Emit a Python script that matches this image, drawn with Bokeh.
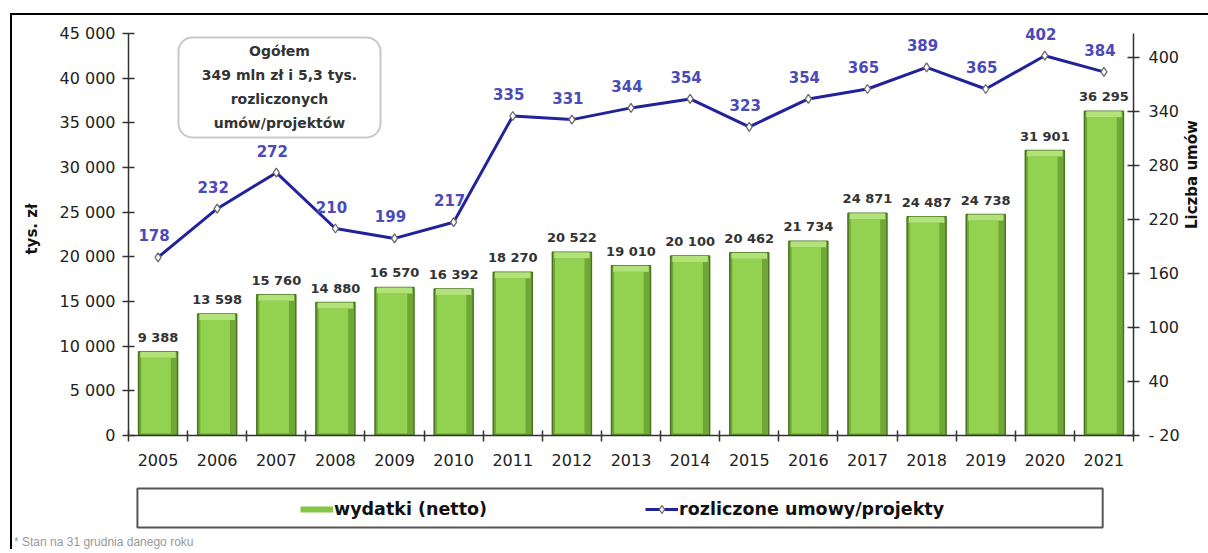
import math
from bokeh.plotting import figure
from bokeh.layouts import column
from bokeh.models import (Range1d, LinearAxis, FixedTicker, ColumnDataSource, Label,
                          BoxAnnotation, Legend, LegendItem, Div)
from bokeh.transform import dodge
from bokeh.core.properties import value
from bokeh.embed import file_html
from bokeh.resources import INLINE

# ---------------- data ----------------
years = [str(y) for y in range(2005, 2022)]
spending = [9388, 13598, 15760, 14880, 16570, 16392, 18270, 20522, 19010,
            20100, 20462, 21734, 24871, 24487, 24738, 31901, 36295]
contracts = [178, 232, 272, 210, 199, 217, 335, 331, 344, 354, 323, 354,
             365, 389, 365, 402, 384]
left_ticks = [0, 5000, 10000, 15000, 20000, 25000, 30000, 35000, 40000, 45000]
right_ticks = [-20, 40, 100, 160, 220, 280, 340, 400]
series_names = ["wydatki (netto)", "rozliczone umowy/projekty"]
left_title = "tys. zł"
right_title = "Liczba umów"
box_text = "Ogółem\n349 mln zł i 5,3 tys.\nrozliczonych\numów/projektów"
note = "* Stan na 31 grudnia danego roku"


def fmt(v):
    return f"{v:,}".replace(",", " ")


# ---------------- geometry (page pixels) ----------------
OX, OY = 12, 15                 # origin of the content inside the black border
FL, FR, FB = 128, 1133, 435     # frame left/right/bottom
AXIS_TOP = 33                   # where the axes end (45 000 / ~427)
FT = 22                         # frame top (a bit of headroom for labels)
MAIN_BOTTOM = 480
W = 1192
N = len(years)
LMAX = 45000
PX = LMAX / (FB - AXIS_TOP)     # left-axis units per pixel
RMIN = -20
R_PX_PER_UNIT = (FB - 57) / 420.0
R_AXIS_END = RMIN + (FB - AXIS_TOP) / R_PX_PER_UNIT
R_FRAME_END = RMIN + (FB - FT) / R_PX_PER_UNIT


def dx(px):
    return (px - FL) * N / (FR - FL)


def dy(py):
    return (FB - py) * PX


FONT = value("DejaVu Sans")

xs = [i + 0.5 for i in range(N)]
src = ColumnDataSource(dict(
    x=xs, year=years, spending=spending, contracts=contracts,
    sp_label=[fmt(v) for v in spending],
    ct_label=[str(c) for c in contracts],
    inner_top=[v - 6 * PX for v in spending],
    cap_bottom=[v - 6 * PX for v in spending],
))

p = figure(frame_width=FR - FL, frame_height=FB - FT,
           x_range=Range1d(0, N), y_range=Range1d(0, dy(FT)),
           min_border_left=FL - OX, min_border_right=W - (FR - OX),
           min_border_top=FT - OY, min_border_bottom=MAIN_BOTTOM - FB,
           output_backend="svg", toolbar_location=None,
           background_fill_color="white", border_fill_color="white")
p.extra_y_ranges = {"n": Range1d(RMIN, R_FRAME_END)}
p.outline_line_color = None
p.xgrid.visible = False
p.ygrid.visible = False

# ---------------- bars ----------------
bars = p.vbar(x="x", top="spending", bottom=0, width=0.66, source=src,
              fill_color="#6fa836", line_color="#4a7420", line_width=1.5)
p.vbar(x=dodge("x", -0.035), top="inner_top", bottom=2 * PX, width=0.5,
       source=src, fill_color="#93d251", line_color=None)
p.vbar(x="x", top="spending", bottom="cap_bottom", width=0.6, source=src,
       fill_color="#b2e27a", line_color=None)

# ---------------- line ----------------
line = p.line(x="x", y="contracts", y_range_name="n", source=src,
              line_color="#22229a", line_width=3)
marks = p.scatter(x="x", y="contracts", y_range_name="n", source=src,
                  marker="diamond", size=9, fill_color="white",
                  line_color="#6a6a6a", line_width=1.3)

# ---------------- value labels ----------------
p.text(x="x", y="spending", text="sp_label", source=src, y_offset=-7,
       text_align="center", text_baseline="bottom", text_font=FONT,
       text_font_style="bold", text_font_size="13px", text_color="#333333")
p.text(x="x", y="contracts", text="ct_label", source=src, y_range_name="n",
       x_offset=-4, y_offset=-22, text_align="center", text_baseline="middle",
       text_font=FONT, text_font_style="bold", text_font_size="15px",
       text_color="#4a4ab8")

# ---------------- axes ----------------
tick_color = "#333333"
p.xaxis.ticker = FixedTicker(ticks=xs, minor_ticks=list(range(N + 1)))
p.xaxis.major_label_overrides = {x: y for x, y in zip(xs, years)}
p.xaxis.major_tick_in = 0
p.xaxis.major_tick_out = 0
p.xaxis.minor_tick_in = 5
p.xaxis.minor_tick_out = 6
p.xaxis.major_label_standoff = 12

p.yaxis.ticker = FixedTicker(ticks=left_ticks, minor_ticks=[])
p.yaxis.bounds = (0, LMAX)
p.yaxis.major_label_overrides = {t: fmt(t) for t in left_ticks}
p.yaxis.major_tick_in = 6
p.yaxis.major_tick_out = 6
p.yaxis.minor_tick_line_color = None
p.yaxis.major_label_standoff = 7
p.yaxis.axis_label = left_title
p.yaxis.axis_label_standoff = 16

raxis = LinearAxis(y_range_name="n", ticker=FixedTicker(ticks=right_ticks, minor_ticks=[]),
                   bounds=(RMIN, R_AXIS_END))
raxis.major_label_overrides = {t: ("- 20" if t < 0 else str(t)) for t in right_ticks}
raxis.major_tick_in = 6
raxis.major_tick_out = 6
raxis.minor_tick_line_color = None
raxis.major_label_standoff = 9
raxis.axis_label = right_title
raxis.axis_label_standoff = 9
raxis.axis_label_orientation = math.pi / 2
p.add_layout(raxis, "right")

for ax in [p.xaxis[0], p.yaxis[0], raxis]:
    ax.axis_line_color = tick_color
    ax.axis_line_width = 1.5
    ax.major_tick_line_color = tick_color
    ax.major_tick_line_width = 1.5
    ax.minor_tick_line_width = 1.5
    ax.major_label_text_font = "DejaVu Sans"
    ax.major_label_text_font_size = "16px"
    ax.major_label_text_color = "#222222"
    ax.axis_label_text_font = "DejaVu Sans"
    ax.axis_label_text_font_style = "bold"
    ax.axis_label_text_font_size = "15px"
    ax.axis_label_text_color = "#111111"
p.xaxis.minor_tick_line_color = tick_color

# ---------------- info box ----------------
info_box = BoxAnnotation(left=dx(178), right=dx(380), top=dy(37), bottom=dy(137),
                         fill_color="white", fill_alpha=1, line_color="#4a4a4a",
                         line_width=2, border_radius=14)
p.add_layout(info_box)
p.add_layout(Label(x=dx(279), y=dy(86), text=box_text, text_align="center",
                   text_baseline="middle", text_line_height=1.5,
                   text_font="DejaVu Sans", text_font_style="bold",
                   text_font_size="14px", text_color="#333333"))

# ---------------- legend strip (its frame lines up with the chart frame) ----------------
LB_TOP = MAIN_BOTTOM
LB_BOTTOM = 532
q = figure(width=W, height=LB_BOTTOM - LB_TOP,
           x_range=Range1d(FL, FR), y_range=Range1d(LB_BOTTOM, LB_TOP),
           min_border_left=FL - OX, min_border_right=W - (FR - OX),
           min_border_top=0, min_border_bottom=0,
           x_axis_location=None, y_axis_location=None,
           output_backend="svg", toolbar_location=None,
           background_fill_color="white", border_fill_color="white")
q.outline_line_color = None
q.grid.visible = False

q.quad(left=137, right=1110, top=488, bottom=527, fill_color="white",
       line_color="#555555", line_width=2)

nan = float("nan")
sw_bar = q.line(x=[nan], y=[nan], line_color="#86c444", line_width=6)
sw_line = q.line(x=[nan], y=[nan], line_color="#22229a", line_width=3)
sw_mark = q.scatter(x=[nan], y=[nan], marker="diamond", size=9, fill_color="white",
                    line_color="#6a6a6a", line_width=1.3)
legend = Legend(items=[LegendItem(label=series_names[0], renderers=[sw_bar]),
                       LegendItem(label=series_names[1], renderers=[sw_line, sw_mark])],
                location=(300 - FL, LB_BOTTOM - 519), orientation="horizontal",
                glyph_width=33, glyph_height=20, label_standoff=1, spacing=158,
                padding=0, margin=0, border_line_color=None,
                background_fill_alpha=0, label_text_font="DejaVu Sans",
                label_text_font_style="bold", label_text_font_size="17.5px",
                label_text_color="#111111")
q.add_layout(legend)

foot = Div(text=note, width=400, height=14, margin=(3, 0, 0, 2),
           styles={"font-family": "Liberation Sans, Arial, sans-serif",
                   "font-size": "12px", "color": "#999999",
                   "line-height": "14px"})

layout = column(p, q, foot, spacing=0, margin=(13, 0, 0, 10),
                styles={"border-left": "2px solid black",
                        "border-top": "2px solid black"})

open("out.html", "w").write(file_html(layout, INLINE))
